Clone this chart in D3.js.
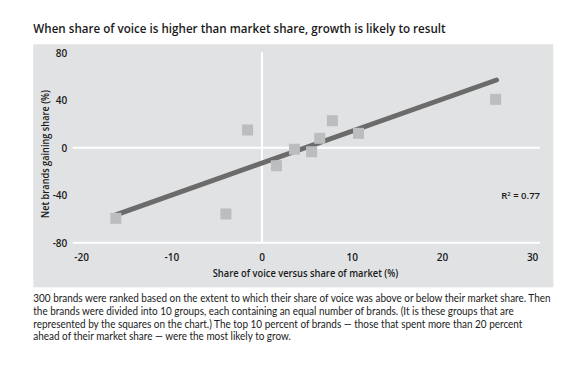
<!DOCTYPE html>
<html><head><meta charset="utf-8">
<script src="https://cdn.jsdelivr.net/npm/d3@7"></script>
<style>body{margin:0;background:#fff}svg{display:block}</style>
</head><body>
<svg id="c" width="579" height="366"></svg>
<script>
const title = "When share of voice is higher than market share, growth is likely to result";
const xLabel = "Share of voice versus share of market (%)";
const yLabel = "Net brands gaining share (%)";
const xTicks = [-20, -10, 0, 10, 20, 30];
const yTicks = [80, 40, 0, -40, -80];
const groupX = [-16.2, -4.0, -1.6, 1.6, 3.6, 5.5, 6.4, 7.8, 10.7, 25.9];
const groupY = [-59.5, -55.8, 14.9, -15.2, -1.3, -3.4, 7.9, 22.7, 12.1, 40.7];
const trendX = [-16.2, 26.0];
const trendY = [-56.5, 57.0];
const rSquared = "0.77";
const caption = [
  "300 brands were ranked based on the extent to which their share of voice was above or below their market share. Then",
  "the brands were divided into 10 groups, each containing an equal number of brands. (It is these groups that are",
  "represented by the squares on the chart.) The top 10 percent of brands \u2014 those that spent more than 20 percent",
  "ahead of their market share \u2014 were the most likely to grow."
];

const svg = d3.select("#c");
const font = "'Open Sans', sans-serif";

const x = d3.scaleLinear().domain([0, 30]).range([262, 532.6]);
const y = d3.scaleLinear().domain([0, -80]).range([147.7, 242.7]);

// title (compressed horizontally to match the condensed original face)
const tg = svg.append("g");
const t = tg.append("text").attr("x", 0).attr("y", 33.3)
  .attr("font-family", font).attr("font-weight", 600).attr("font-size", 12.8)
  .attr("fill", "#1a1a1a").text(title);
const tk = 412.5 / t.node().getComputedTextLength();
tg.attr("transform", `translate(33.3,0) scale(${tk},1)`);

// panel
svg.append("rect").attr("x", 33.3).attr("y", 44.3).attr("width", 520).attr("height", 243)
  .attr("fill", "#e1e2e4");

// white axis lines
svg.append("line").attr("x1", 72.7).attr("x2", 540).attr("y1", y(0)).attr("y2", y(0))
  .attr("stroke", "#fff").attr("stroke-width", 2);
svg.append("line").attr("x1", 72.7).attr("x2", 540).attr("y1", y(-80)).attr("y2", y(-80))
  .attr("stroke", "#fff").attr("stroke-width", 2);
svg.append("line").attr("x1", x(0)).attr("x2", x(0)).attr("y1", y(80) - 0.5).attr("y2", y(-80))
  .attr("stroke", "#fff").attr("stroke-width", 2);

// y tick labels
svg.append("g").selectAll("text").data(yTicks).join("text")
  .attr("x", 67.3).attr("y", d => y(d) + 3.8)
  .attr("text-anchor", "end")
  .attr("font-family", font).attr("font-weight", 600).attr("font-size", 10)
  .attr("fill", "#1a1a1a").text(d => d);

// x tick labels
svg.append("g").selectAll("text").data(xTicks).join("text")
  .attr("x", d => x(d)).attr("y", 261)
  .attr("text-anchor", "middle")
  .attr("font-family", font).attr("font-weight", 600).attr("font-size", 10)
  .attr("fill", "#1a1a1a").text(d => d);

// axis titles
const xg = svg.append("g");
const xt = xg.append("text").attr("x", 0).attr("y", 277.5).attr("text-anchor", "middle")
  .attr("font-family", font).attr("font-weight", 600).attr("font-size", 10)
  .attr("fill", "#1a1a1a").text(xLabel);
const xk = 186 / xt.node().getComputedTextLength();
xg.attr("transform", `translate(305.5,0) scale(${xk},1)`);

const yg = svg.append("g");
const yt = yg.append("text").attr("x", 0).attr("y", 0).attr("text-anchor", "middle")
  .attr("font-family", font).attr("font-weight", 600).attr("font-size", 10)
  .attr("fill", "#1a1a1a").text(yLabel);
const yk = 128 / yt.node().getComputedTextLength();
yg.attr("transform", `translate(48.5,154) rotate(-90) scale(${yk},1)`);

// trend line
const pts = trendX.map((v, i) => [v, trendY[i]]);
svg.append("path").attr("d", d3.line().x(d => x(d[0])).y(d => y(d[1]))(pts))
  .attr("stroke", "#6b6b6b").attr("stroke-width", 5).attr("stroke-linecap", "round")
  .attr("fill", "none");

// squares
const sq = 11;
svg.append("g").selectAll("rect").data(groupX.map((v, i) => [v, groupY[i]])).join("rect")
  .attr("x", d => x(d[0]) - sq / 2).attr("y", d => y(d[1]) - sq / 2)
  .attr("width", sq).attr("height", sq).attr("fill", "#bcbdbf");

// R squared
const r = svg.append("text").attr("x", 540).attr("y", 199).attr("text-anchor", "end")
  .attr("font-family", font).attr("font-weight", 600).attr("font-size", 9.5).attr("fill", "#1a1a1a");
r.append("tspan").text("R");
r.append("tspan").attr("dy", -3).attr("font-size", 6).text("2");
r.append("tspan").attr("dy", 3).text(" = " + rSquared);

// caption (compressed horizontally with one common factor)
const cap = svg.append("g");
const lines = cap.selectAll("text").data(caption).join("text")
  .attr("x", 0).attr("y", (d, i) => 302 + i * 12.8)
  .attr("font-family", "Lato, sans-serif").attr("font-size", 10.6).attr("fill", "#1a1a1a")
  .text(d => d);
const ck = 518 / lines.nodes()[0].getComputedTextLength();
cap.attr("transform", `translate(33.3,0) scale(${ck},1)`);
</script>
</body></html>
